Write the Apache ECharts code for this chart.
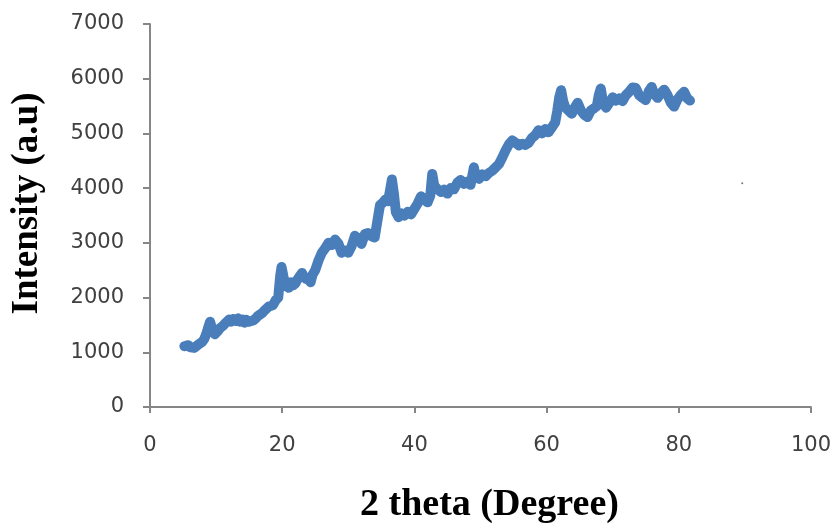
<!DOCTYPE html>
<html>
<head>
<meta charset="utf-8">
<script src="https://cdn.jsdelivr.net/npm/echarts@6/dist/echarts.min.js"></script>
<style>
html,body{margin:0;padding:0;background:#fff;}
#chart{width:834px;height:529px;}
</style>
</head>
<body>
<div id="chart"></div>
<script>
// 2 theta values (degree)
var twoTheta = [
5.2,5.5,5.8,6.1,6.4,6.7,7.0,7.3,7.6,7.9,8.2,8.5,8.8,9.1,9.4,9.8,10.2,10.6,11.0,11.3,11.6,12.0,12.3,12.6,13.0,13.3,13.6,
14.0,14.3,14.6,15.0,15.3,15.6,16.0,16.3,16.6,17.0,17.3,17.6,18.0,18.3,18.6,19.0,19.4,19.7,19.9,20.2,20.5,21.0,21.3,21.6,22.0,22.3,22.6,
23.0,23.3,23.6,24.0,24.3,24.6,25.0,25.5,26.0,26.5,27.0,27.5,28.0,28.5,29.0,29.5,30.0,30.5,31.0,31.5,32.0,32.5,
33.0,33.5,34.0,34.4,34.8,35.2,35.6,36.0,36.3,36.6,36.9,37.2,37.6,38.0,38.5,39.0,39.5,40.0,40.5,41.0,
41.5,42.0,42.4,42.7,43.0,43.5,44.0,44.5,45.0,45.5,46.0,46.5,47.0,47.5,48.0,48.5,49.0,49.3,49.8,50.3,
50.8,51.3,51.8,52.3,52.8,53.3,53.8,54.3,54.8,55.3,55.8,56.3,56.8,57.3,57.8,58.3,58.8,59.3,59.8,60.3,
60.8,61.3,61.6,61.9,62.2,62.5,62.8,63.3,63.8,64.3,64.7,65.2,65.7,66.2,66.7,67.2,67.6,67.9,68.2,68.5,
69.0,69.5,70.0,70.5,71.0,71.5,72.0,72.5,73.0,73.5,74.0,74.5,75.0,75.5,75.9,76.3,76.8,77.3,77.8,78.3,
78.8,79.3,79.8,80.3,80.8,81.3,81.7
];
// Intensity (a.u)
var intensity = [
1110,1080,1130,1090,1120,1080,1110,1140,1130,1190,1240,1330,1450,1560,1420,1330,1380,1440,1480,1520,1500,1600,1560,1610,1570,1620,1560,
1600,1540,1590,1560,1530,1580,1620,1660,1630,1720,1760,1740,1840,1870,1860,1950,2000,2400,2560,2380,2220,2180,2280,2220,2260,2330,2300,
2450,2380,2340,2330,2280,2420,2500,2680,2820,2900,3000,2960,3060,2990,2820,2860,2820,2940,3130,3080,2980,3160,
3180,3120,3100,3400,3690,3730,3790,3760,3950,4160,3900,3560,3470,3540,3500,3570,3520,3620,3720,3850,
3800,3740,3860,4260,4050,3980,3930,3970,3900,4000,3980,4100,4150,4080,4120,4060,4380,4200,4170,4250,
4220,4280,4320,4380,4440,4560,4690,4800,4870,4830,4780,4810,4790,4830,4920,4970,5060,5000,5080,5020,
5110,5200,5400,5650,5790,5600,5480,5420,5360,5480,5560,5420,5340,5300,5420,5460,5500,5700,5820,5600,
5470,5560,5660,5600,5640,5590,5700,5760,5840,5830,5700,5650,5610,5780,5850,5720,5650,5740,5800,5700,
5560,5490,5620,5700,5760,5640,5600
];
// stray point visible in the original
var strayX = [89.6];
var strayY = [4090];

var xTicks = [0, 20, 40, 60, 80, 100];
var yTicks = [0, 1000, 2000, 3000, 4000, 5000, 6000, 7000];

var lineData = twoTheta.map(function (x, i) { return [x, intensity[i]]; });
var strayData = strayX.map(function (x, i) { return [x, strayY[i]]; });

var chart = echarts.init(document.getElementById('chart'), null, {renderer: 'canvas'});
var axisCol = '#868686';
chart.setOption({
  backgroundColor: '#ffffff',
  animation: false,
  grid: {left: 150, right: 22, top: 24, bottom: 113, containLabel: false},
  xAxis: {
    type: 'value',
    min: xTicks[0], max: xTicks[xTicks.length - 1], interval: 20,
    name: '2 theta (Degree)',
    nameLocation: 'middle',
    nameGap: 79,
    nameTextStyle: {fontFamily: 'Liberation Serif', fontWeight: 'bold', fontSize: 38, color: '#000', padding: [0, 0, 0, 18]},
    axisLine: {show: true, lineStyle: {color: axisCol, width: 2}},
    axisTick: {show: true, inside: false, length: 6, lineStyle: {color: axisCol, width: 2}},
    axisLabel: {margin: 28, fontFamily: 'DejaVu Sans', fontSize: 21, color: '#404040',
      formatter: function (v) { return String(v); }},
    splitLine: {show: false}
  },
  yAxis: {
    type: 'value',
    min: yTicks[0], max: yTicks[yTicks.length - 1], interval: 1000,
    name: 'Intensity (a.u)',
    nameLocation: 'middle',
    nameGap: 104,
    nameTextStyle: {fontFamily: 'Liberation Serif', fontWeight: 'bold', fontSize: 37, color: '#000', padding: [0, 0, 0, 24]},
    axisLine: {show: true, lineStyle: {color: axisCol, width: 2}},
    axisTick: {show: true, inside: false, length: 7, lineStyle: {color: axisCol, width: 2}},
    axisLabel: {margin: 26, fontFamily: 'DejaVu Sans', fontSize: 21, color: '#404040',
      formatter: function (v) { return String(v); }},
    splitLine: {show: false}
  },
  series: [
    {
      type: 'line',
      data: lineData,
      showSymbol: false,
      symbol: 'none',
      lineStyle: {color: '#4a7ebb', width: 10, cap: 'round', join: 'round'},
      z: 3
    },
    {
      type: 'scatter',
      data: strayData,
      symbolSize: 2,
      itemStyle: {color: '#555555'},
      z: 2
    }
  ]
});
</script>
</body>
</html>
